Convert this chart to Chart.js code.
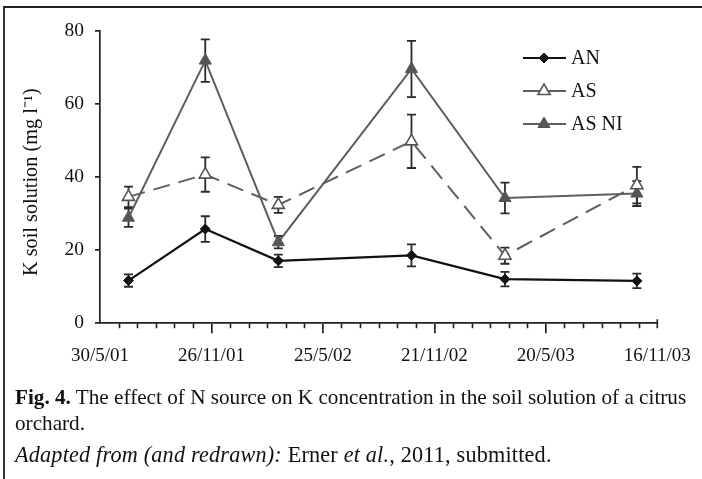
<!DOCTYPE html>
<html>
<head>
<meta charset="utf-8">
<script src="https://cdn.jsdelivr.net/npm/chart.js@4.4.1/dist/chart.umd.min.js"></script>
<style>
  html, body { margin: 0; padding: 0; background: #fff; }
  #page { position: relative; width: 702px; height: 479px; overflow: hidden; background: #fff; }
  #frame { position: absolute; left: 3px; top: 6px; width: 720px; height: 500px;
           border-left: 2px solid #333; border-top: 2px solid #222; }
  #plot { position: absolute; left: 0; top: 0; width: 702px; height: 368px; }
  .cap { position: absolute; left: 15px; font-family: "Liberation Serif", "Times New Roman", serif;
         font-size: 21.2px; line-height: 26px; color: #111; white-space: nowrap; }
</style>
</head>
<body>
<div id="page">
  <div id="plot"><canvas id="c"></canvas></div>
  <div id="frame"></div>
  <div class="cap" style="top:384px"><b>Fig. 4.</b> The effect of N source on K concentration in the soil solution of a citrus<br>orchard.</div>
  <div class="cap" style="top:442px; font-size:22.2px; letter-spacing:0.2px"><i>Adapted from (and redrawn):</i> Erner <i>et al.</i>, 2011, submitted.</div>
</div>
<script>
// Sampling dates (d/m/yy) and K concentration in soil solution, mg l-1
const sampleDates = ['15/7/01', '16/11/01', '14/3/02', '15/10/02', '15/3/03', '14/10/03'];
const anValues   = [11.7, 25.8, 17.1, 18.6, 12.1, 11.6];
const anErrors   = [1.7, 3.5, 1.7, 3.0, 2.0, 2.0];
const asValues   = [34.6, 40.7, 32.4, 49.8, 18.5, 37.8];
const asErrors   = [2.8, 4.7, 2.2, 7.3, 2.2, 5.0];
const asNiValues = [28.9, 71.9, 22.2, 69.6, 34.3, 35.5];
const asNiErrors = [2.5, 5.8, 1.7, 7.7, 4.2, 3.4];
const seriesNames = ['AN', 'AS', 'AS NI'];
const tickDates  = ['30/5/01', '26/11/01', '25/5/02', '21/11/02', '20/5/03', '16/11/03'];
const yTicks     = [0, 20, 40, 60, 80];

// day number of a d/m/yy date, counted from the first axis date
function dayNum(s) {
  const [d, m, y] = s.split('/').map(Number);
  return Date.UTC(2000 + y, m - 1, d) / 86400000;
}
const origin = dayNum(tickDates[0]);
const toDay = s => dayNum(s) - origin;
const tickDays = tickDates.map(toDay);
const xs = sampleDates.map(toDay);
const pts = vals => vals.map((v, i) => ({ x: xs[i], y: v }));

const serif = '"Liberation Serif", "Times New Roman", serif';
const axisColor = '#222';

const errorBars = {
  id: 'errorBars',
  beforeDatasetsDraw(chart) {
    const ctx = chart.ctx, ys = chart.scales.y;
    const errs = [anErrors, asErrors, asNiErrors];
    const vals = [anValues, asValues, asNiValues];
    ctx.save();
    ctx.strokeStyle = '#2a2a2a';
    ctx.lineWidth = 1.8;
    chart.data.datasets.forEach((ds, di) => {
      const meta = chart.getDatasetMeta(di);
      meta.data.forEach((pt, i) => {
        const top = ys.getPixelForValue(vals[di][i] + errs[di][i]);
        const bot = ys.getPixelForValue(vals[di][i] - errs[di][i]);
        const x = pt.x, w = 4.5;
        ctx.beginPath();
        ctx.moveTo(x, top); ctx.lineTo(x, bot);
        ctx.moveTo(x - w, top); ctx.lineTo(x + w, top);
        ctx.moveTo(x - w, bot); ctx.lineTo(x + w, bot);
        ctx.stroke();
      });
    });
    ctx.restore();
  }
};

// monthly minor ticks on the date axis, plus the closing tick
const minorTicks = {
  id: 'minorTicks',
  afterDraw(chart) {
    const ctx = chart.ctx, xsc = chart.scales.x;
    const yb = chart.chartArea.bottom;
    ctx.save();
    ctx.strokeStyle = axisColor;
    ctx.lineWidth = 1.6;
    ctx.beginPath();
    for (let d = 30; d < tickDays[tickDays.length - 1]; d += 30) {
      if (tickDays.includes(d)) continue;
      const x = Math.round(xsc.getPixelForValue(d)) + 0.5;
      ctx.moveTo(x, yb); ctx.lineTo(x, yb + 5);
    }
    const xe = xsc.getPixelForValue(tickDays[tickDays.length - 1]);
    ctx.moveTo(xe, yb - 4); ctx.lineTo(xe, yb + 5);
    ctx.stroke();
    ctx.restore();
  }
};

// legend: line sample with marker, then series name
const sideLegend = {
  id: 'sideLegend',
  afterDraw(chart) {
    const ctx = chart.ctx;
    const rows = [58, 91, 124];
    const x0 = 523, x1 = 566, xm = 544;
    ctx.save();
    chart.data.datasets.forEach((ds, i) => {
      const y = rows[i];
      ctx.strokeStyle = ds.borderColor;
      ctx.lineWidth = ds.borderWidth;
      ctx.setLineDash(ds.borderDash || []);
      ctx.beginPath();
      ctx.moveTo(x0, y); ctx.lineTo(x1, y);
      ctx.stroke();
      ctx.setLineDash([]);
      ctx.fillStyle = ds.pointBackgroundColor;
      ctx.strokeStyle = ds.pointBorderColor;
      ctx.lineWidth = ds.pointBorderWidth;
      Chart.helpers.drawPoint(ctx, { pointStyle: ds.pointStyle, radius: ds.pointRadius, rotation: 0, borderWidth: ds.pointBorderWidth }, xm, y);
      ctx.fillStyle = '#111';
      ctx.font = '20px ' + serif;
      ctx.textBaseline = 'middle';
      ctx.fillText(ds.label, 571, y + 1);
    });
    ctx.restore();
  }
};

new Chart(document.getElementById('c'), {
  type: 'line',
  data: {
    datasets: [
      { label: seriesNames[0], data: pts(anValues), borderColor: '#111', borderWidth: 2.2,
        pointStyle: 'rectRot', pointRadius: 5, pointBackgroundColor: '#111', pointBorderColor: '#111', pointBorderWidth: 1 },
      { label: seriesNames[1], data: pts(asValues), borderColor: '#5e5e5e', borderWidth: 2, borderDash: [17, 9],
        pointStyle: 'triangle', pointRadius: 7, pointBackgroundColor: '#fff', pointBorderColor: '#555', pointBorderWidth: 1.6 },
      { label: seriesNames[2], data: pts(asNiValues), borderColor: '#5e5e5e', borderWidth: 2,
        pointStyle: 'triangle', pointRadius: 7, pointBackgroundColor: '#555', pointBorderColor: '#555', pointBorderWidth: 1 }
    ]
  },
  options: {
    responsive: true,
    maintainAspectRatio: false,
    animation: false,
    events: [],
    layout: { padding: { top: 31, right: 44.7, bottom: 0, left: 0 } },
    plugins: { legend: { display: false }, tooltip: { enabled: false } },
    elements: { line: { tension: 0 } },
    scales: {
      x: {
        type: 'linear',
        min: tickDays[0],
        max: tickDays[tickDays.length - 1],
        afterBuildTicks: s => { s.ticks = tickDays.map(v => ({ value: v })); },
        afterFit: s => { s.height = 44.7; },
        border: { display: true, color: axisColor, width: 1.7 },
        grid: {
          drawOnChartArea: false, tickLength: 10, lineWidth: 1.7,
          tickColor: c => (c.tick && (c.tick.value === tickDays[0] || c.tick.value === tickDays[tickDays.length - 1])) ? 'rgba(0,0,0,0)' : axisColor
        },
        ticks: {
          autoSkip: false, maxRotation: 0, padding: 11, color: '#111',
          font: { family: serif, size: 19 },
          callback: v => tickDates[tickDays.indexOf(v)] || ''
        }
      },
      y: {
        min: 0, max: 80,
        afterBuildTicks: s => { s.ticks = yTicks.map(v => ({ value: v })); },
        afterFit: s => { s.width = 100; },
        border: { display: true, color: axisColor, width: 1.7 },
        grid: { drawOnChartArea: false, tickLength: 5, color: axisColor, lineWidth: 1.7 },
        ticks: { padding: 11, color: '#111', font: { family: serif, size: 19.5 } },
        title: { display: true, text: 'K soil solution (mg l\u207B\u00B9)\u00A0\u00A0', color: '#111',
                 font: { family: serif, size: 20.3 }, padding: { top: 19, bottom: 0 } }
      }
    }
  },
  plugins: [errorBars, minorTicks, sideLegend]
});
</script>
</body>
</html>
